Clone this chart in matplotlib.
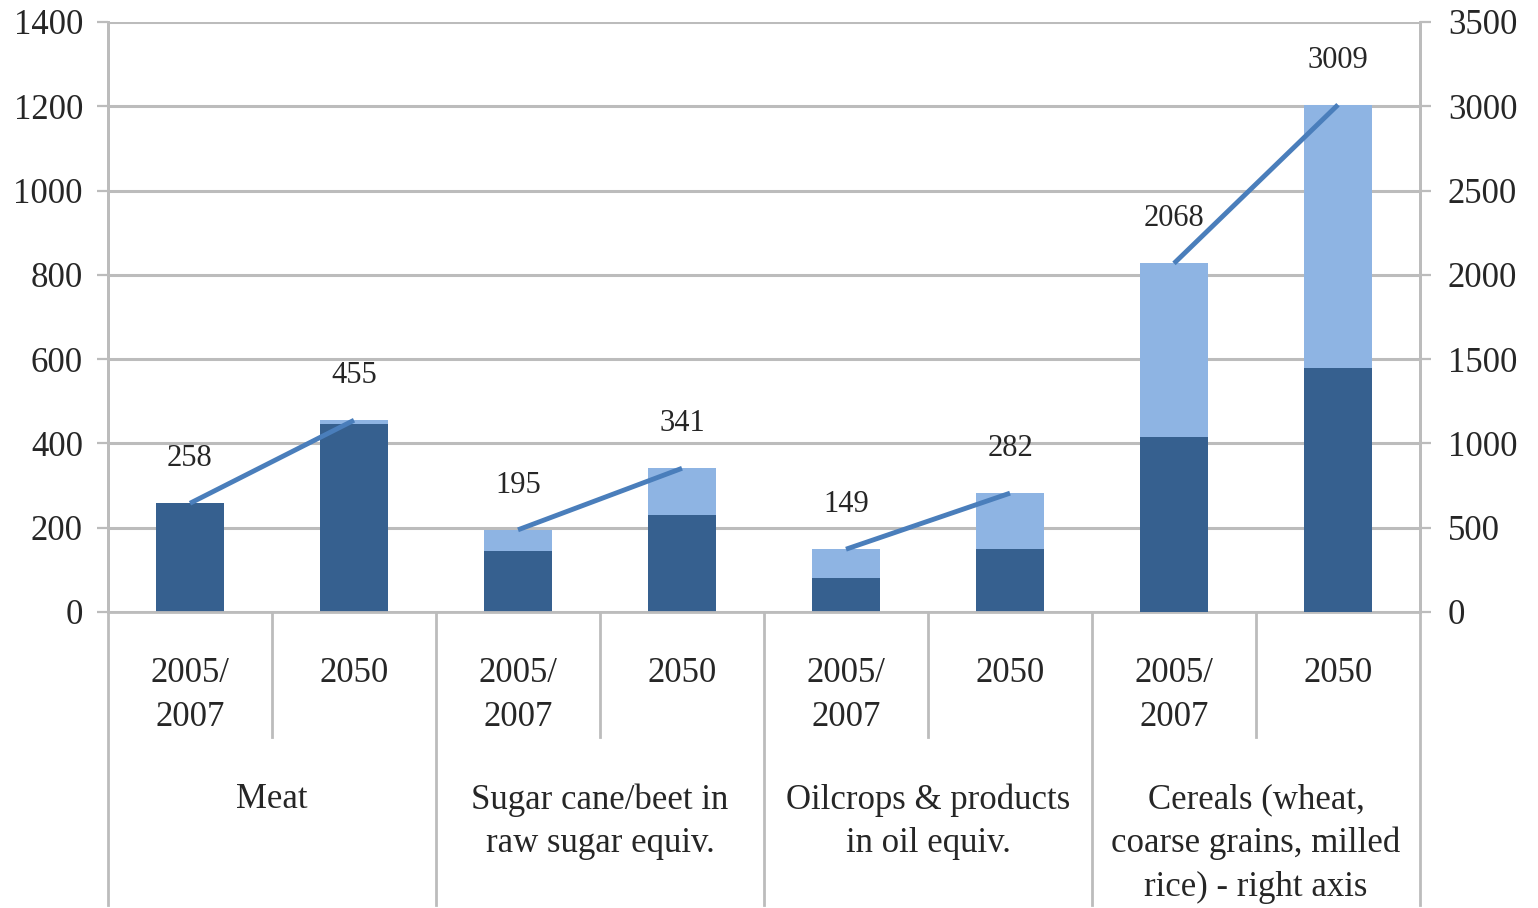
import matplotlib.pyplot as plt

plt.rcParams['font.family'] = ['Liberation Serif', 'DejaVu Serif']

# data (left axis: Meat, Sugar, Oilcrops; right axis: Cereals)
groups = ['Meat', 'Sugar cane/beet in\nraw sugar equiv.',
          'Oilcrops & products\nin oil equiv.',
          'Cereals (wheat,\ncoarse grains, milled\nrice) - right axis']
periods = ['2005/\n2007', '2050']
dark_vals = [[258, 445], [145, 230], [80, 150], [1040, 1450]]
light_vals = [[0, 10], [50, 111], [69, 132], [1028, 1559]]
totals = [[258, 455], [195, 341], [149, 282], [2068, 3009]]

dark = '#36608f'
light = '#8eb4e3'
line_c = '#4a7ebb'
grid_c = '#bcbcbc'
txt_c = '#262626'

fig = plt.figure(figsize=(15.38, 9.08), dpi=100)
ax = fig.add_axes([108 / 1538, 1 - 612 / 908, 1312 / 1538, 590 / 908])
ax2 = ax.twinx()

ax.set_xlim(0, 8)
ax.set_ylim(0, 1400)
ax2.set_ylim(0, 3500)
ax.set_yticks(range(0, 1401, 200))
ax2.set_yticks(range(0, 3501, 500))
ax.set_xticks([])

ax.grid(axis='y', color=grid_c, linewidth=2.2)
ax.set_axisbelow(True)
for a in (ax, ax2):
    for s in ('top', 'bottom'):
        a.spines[s].set_visible(False)
    a.spines['left'].set_color(grid_c)
    a.spines['right'].set_color(grid_c)
    a.spines['left'].set_linewidth(2)
    a.spines['right'].set_linewidth(2)
ax.tick_params(axis='y', length=8, width=1.6, color=grid_c, pad=10,
               labelsize=25, labelcolor=txt_c)
ax2.tick_params(axis='y', length=8, width=1.6, color=grid_c, pad=12,
                labelsize=25, labelcolor=txt_c)

width = 0.41
for g in range(4):
    a = ax2 if g == 3 else ax
    xs = [2 * g + 0.5, 2 * g + 1.5]
    a.bar(xs, dark_vals[g], width, color=dark, zorder=2)
    a.bar(xs, light_vals[g], width, bottom=dark_vals[g], color=light, zorder=2)
    a.plot(xs, totals[g], color=line_c, linewidth=3.5, zorder=3,
           solid_capstyle='butt')
    for x, v in zip(xs, totals[g]):
        a.annotate(str(v), (x, v), xytext=(0, 32), textcoords='offset points',
                   ha='center', va='center', fontsize=22, color=txt_c, zorder=4)

# category table below the plot
trans = ax.get_xaxis_transform()
ax.plot([0, 8], [0, 0], color=grid_c, linewidth=2, transform=trans,
        clip_on=False)
for x in range(0, 9, 2):
    ax.plot([x, x], [0, -0.497], color=grid_c, linewidth=2, transform=trans,
            clip_on=False)
for x in range(1, 8, 2):
    ax.plot([x, x], [0, -0.212], color=grid_c, linewidth=2, transform=trans,
            clip_on=False)
for g in range(4):
    for k in range(2):
        ax.text(2 * g + 0.5 + k, -0.077, periods[k], transform=trans,
                ha='center', va='top', fontsize=25, color=txt_c,
                linespacing=1.42)
    ax.text(2 * g + 1, -0.29, groups[g], transform=trans, ha='center',
            va='top', fontsize=25, color=txt_c, linespacing=1.42)

fig.savefig('out.png', dpi=100)
